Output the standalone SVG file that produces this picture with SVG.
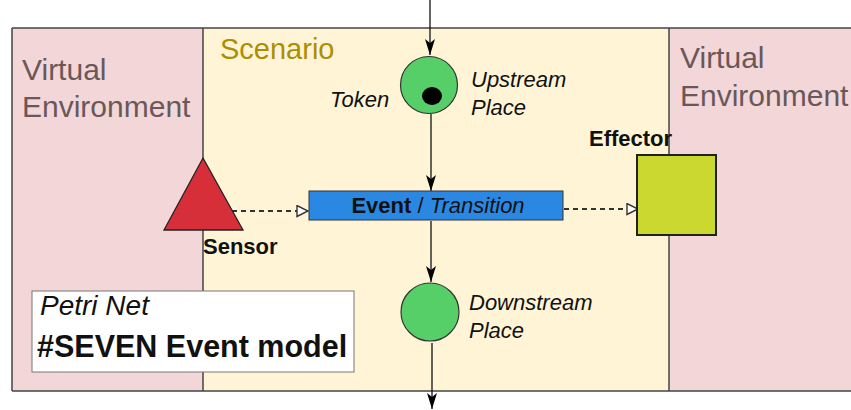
<svg xmlns="http://www.w3.org/2000/svg" width="851" height="410" viewBox="0 0 851 410">
<style>
.region-label{font-family:"Liberation Sans",Arial,sans-serif;font-size:30px;fill:#6a5858}
.scen{font-family:"Liberation Sans",Arial,sans-serif;font-size:29px;fill:#ad8e00}
.it{font-family:"Liberation Sans",Arial,sans-serif;font-style:italic;font-size:22px;fill:#111}
.bd{font-family:"Liberation Sans",Arial,sans-serif;font-weight:bold;font-size:22px;fill:#111}
.place{fill:#57cf68;stroke:#333;stroke-width:1.2}
.conn{stroke:#111;stroke-width:1.3;fill:none}
.dash{stroke:#333;stroke-width:1.8;stroke-dasharray:5,4;fill:none}
</style>
<defs>
<marker id="arrv" viewBox="0 0 16 10" refX="16" refY="5" markerWidth="16" markerHeight="10" markerUnits="userSpaceOnUse" orient="auto">
<path d="M0,0 L16,5 L0,10 L4,5 z" fill="#000"/>
</marker>
<marker id="open" viewBox="0 0 13 13" refX="12" refY="6.5" markerWidth="13" markerHeight="13" markerUnits="userSpaceOnUse" orient="auto">
<path d="M1,1 L12,6.5 L1,12 z" fill="#fff" stroke="#333" stroke-width="1.4"/>
</marker>
</defs>

<g id="background">
<rect x="12" y="28" width="191" height="363" fill="#f3d6d8"/>
<rect x="203" y="28" width="466" height="363" fill="#fff5d6"/>
<rect x="669" y="28" width="182" height="363" fill="#f3d6d8"/>
<path d="M12,28 H851 M12,391 H851 M12,28 V391 M203,28 V391 M669,28 V391" stroke="#444" stroke-width="1.5" fill="none"/>
<text class="region-label" x="22" y="80">Virtual</text>
<text class="region-label" x="22" y="117">Environment</text>
<text class="scen" x="220" y="59">Scenario</text>
<text class="region-label" x="680" y="68">Virtual</text>
<text class="region-label" x="680" y="106">Environment</text>
</g>

<g id="connectors">
<line class="conn" x1="430" y1="0" x2="430" y2="55" marker-end="url(#arrv)"/>
<line class="conn" x1="431" y1="114" x2="431" y2="191" marker-end="url(#arrv)"/>
<line class="conn" x1="431" y1="221" x2="431" y2="282" marker-end="url(#arrv)"/>
<line class="conn" x1="432" y1="343" x2="432" y2="409" marker-end="url(#arrv)"/>
<line class="dash" x1="232" y1="211" x2="308" y2="211" marker-end="url(#open)"/>
<line class="dash" x1="564" y1="209" x2="638" y2="209" marker-end="url(#open)"/>
</g>

<g id="upstream-place">
<circle class="place" cx="429" cy="85" r="28.5"/>
<ellipse cx="432" cy="96" rx="10" ry="9" fill="#000"/>
<text class="it" x="330" y="107">Token</text>
<text class="it" x="471" y="87">Upstream</text>
<text class="it" x="471" y="115">Place</text>
</g>

<g id="transition">
<rect x="309" y="191" width="254" height="29" fill="#2a88e2" stroke="#333" stroke-width="1"/>
<text x="438" y="213" text-anchor="middle" style="font-family:'Liberation Sans',Arial,sans-serif;font-size:22px;fill:#111"><tspan font-weight="bold">Event</tspan> / <tspan font-style="italic">Transition</tspan></text>
</g>

<g id="downstream-place">
<circle class="place" cx="430" cy="312" r="29"/>
<text class="it" x="469" y="310">Downstream</text>
<text class="it" x="469" y="338">Place</text>
</g>

<g id="sensor">
<polygon points="203,158 243,230 164,230" fill="#d62f3a" stroke="#222" stroke-width="1.3"/>
<text class="bd" x="203" y="254">Sensor</text>
</g>

<g id="effector">
<rect x="637" y="155" width="79" height="80" fill="#cbd82f" stroke="#222" stroke-width="2"/>
<text class="bd" x="589" y="146">Effector</text>
</g>

<g id="legend">
<rect x="32" y="291" width="322" height="81" fill="#fff" stroke="#777" stroke-width="1"/>
<text x="40" y="315" style="font-family:'Liberation Sans',Arial,sans-serif;font-style:italic;font-size:28px;fill:#111">Petri Net</text>
<text x="37" y="357" style="font-family:'Liberation Sans',Arial,sans-serif;font-weight:bold;font-size:30.5px;fill:#111">#SEVEN Event model</text>
</g>
</svg>
